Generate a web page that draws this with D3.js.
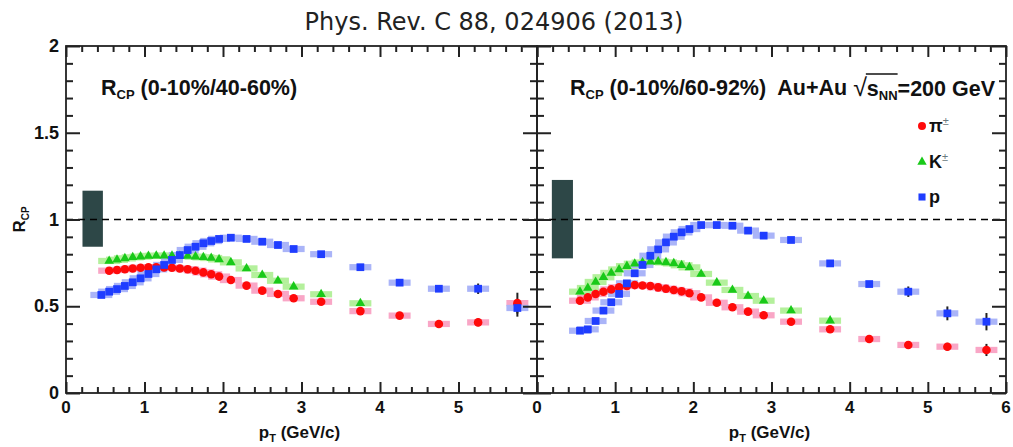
<!DOCTYPE html>
<html>
<head>
<meta charset="utf-8">
<script src="https://cdn.jsdelivr.net/npm/d3@7"></script>
<style>
  html, body { margin: 0; padding: 0; background: #fff; }
  svg { display: block; }
  .lab { font-family: "Liberation Sans", Arial, sans-serif; font-weight: bold; fill: #111; white-space: pre; }
</style>
</head>
<body>
<svg id="chart" width="1013" height="447"></svg>
<script>
// ---- data: R_CP of identified hadrons vs pT ----
const pionPt   = [0.55,0.65,0.75,0.85,0.95,1.05,1.15,1.25,1.35,1.45,1.55,1.65,1.75,1.85,1.95,2.1,2.3,2.5,2.7,2.9,3.25,3.75,4.25,4.75,5.25,5.75];
const kaonPt   = [0.55,0.65,0.75,0.85,0.95,1.05,1.15,1.25,1.35,1.45,1.55,1.65,1.75,1.85,1.95,2.1,2.3,2.5,2.7,2.9,3.25,3.75];
const protonPtA = [0.45,0.55,0.65,0.75,0.85,0.95,1.05,1.15,1.25,1.35,1.45,1.55,1.65,1.75,1.85,1.95,2.1,2.3,2.5,2.7,2.9,3.25,3.75,4.25,4.75,5.25,5.75];
const protonPtB = [0.55,0.65,0.75,0.85,0.95,1.05,1.15,1.25,1.35,1.45,1.55,1.65,1.75,1.85,1.95,2.1,2.3,2.5,2.7,2.9,3.25,3.75,4.25,4.75,5.25,5.75];

// 0-10% / 40-60%
const pion4060   = [0.705,0.709,0.713,0.718,0.722,0.724,0.724,0.724,0.722,0.718,0.713,0.705,0.695,0.684,0.671,0.651,0.619,0.590,0.571,0.546,0.526,0.472,0.446,0.398,0.407,0.518];
const pionErr4060 = [0,0,0,0,0,0,0,0,0,0,0,0,0,0,0,0,0,0,0,0,0,0,0.008,0.012,0.022,0.06];
const kaon4060   = [0.761,0.768,0.776,0.782,0.786,0.790,0.791,0.791,0.791,0.790,0.790,0.786,0.782,0.778,0.770,0.753,0.718,0.680,0.647,0.613,0.569,0.517];
const proton4060 = [0.565,0.584,0.599,0.617,0.638,0.661,0.686,0.713,0.738,0.767,0.795,0.824,0.843,0.863,0.876,0.888,0.895,0.888,0.872,0.853,0.830,0.800,0.725,0.636,0.601,0.601,0.490];
const protonErr4060 = [0,0,0,0,0,0,0,0,0,0,0,0,0,0,0,0,0,0,0,0,0,0,0,0.01,0.015,0.03,0.05];

// 0-10% / 60-92%
const pion6092   = [0.532,0.551,0.571,0.584,0.597,0.609,0.617,0.622,0.620,0.617,0.609,0.601,0.594,0.586,0.575,0.551,0.520,0.494,0.469,0.448,0.411,0.367,0.311,0.277,0.267,0.248];
const pionErr6092 = [0,0,0,0,0,0,0,0,0,0,0,0,0,0,0,0,0,0,0,0,0,0,0.008,0.015,0.022,0.035];
const kaon6092   = [0.584,0.605,0.640,0.667,0.692,0.712,0.731,0.745,0.752,0.757,0.757,0.753,0.747,0.736,0.724,0.686,0.636,0.594,0.559,0.532,0.475,0.417];
const proton6092 = [0.359,0.367,0.415,0.475,0.523,0.571,0.632,0.690,0.738,0.791,0.828,0.868,0.901,0.926,0.945,0.968,0.968,0.964,0.936,0.907,0.882,0.747,0.628,0.584,0.459,0.411];
const protonErr6092 = [0,0,0,0,0,0,0,0,0,0,0,0,0,0,0,0,0,0,0,0,0,0.008,0.015,0.03,0.04,0.05];

// normalisation uncertainty boxes [pT from, pT to, R low, R high]
const normBox4060 = [0.21, 0.47, 0.843, 1.166];
const normBox6092 = [0.19, 0.46, 0.776, 1.228];

const xMajor = [0,1,2,3,4,5,6];
const xMinor = [0.2,0.4,0.6,0.8,1.2,1.4,1.6,1.8,2.2,2.4,2.6,2.8,3.2,3.4,3.6,3.8,4.2,4.4,4.6,4.8,5.2,5.4,5.6,5.8];
const yMajor = [0,0.5,1,1.5,2];
const yMinor = [0.1,0.2,0.3,0.4,0.6,0.7,0.8,0.9,1.1,1.2,1.3,1.4,1.6,1.7,1.8,1.9];
const yTickText = ["0","0.5","1","1.5","2"];

// ---- layout ----
const svg = d3.select("#chart");
const plotTop = 46, plotBottom = 393;
const panels = [
  { x0: 66,  x1: 537, pion: pion4060, pionErr: pionErr4060, kaon: kaon4060,
    proton: proton4060, protonErr: protonErr4060, protonPt: protonPtA, box: normBox4060, xlabels: [0,1,2,3,4,5] },
  { x0: 537, x1: 1006, pion: pion6092, pionErr: pionErr6092, kaon: kaon6092,
    proton: proton6092, protonErr: protonErr6092, protonPt: protonPtB, box: normBox6092, xlabels: [0,1,2,3,4,5,6] }
];
const y = d3.scaleLinear().domain([0, 2]).range([plotBottom, plotTop]);

const colors = {
  pion:   { mark: "#ff0a0a", band: "#f9a6c6" },
  kaon:   { mark: "#19c919", band: "#b4f09c" },
  proton: { mark: "#1f3dff", band: "#aab4f8" }
};
const sysR = 0.018;      // systematic band half-height
const bandHalfPt = 0.14; // systematic band half-width
const axisColor = "#222";

svg.append("text")
  .attr("x", 494).attr("y", 30)
  .attr("text-anchor", "middle")
  .style("font-family", "'DejaVu Sans', sans-serif")
  .style("font-size", "24px")
  .style("fill", "#222")
  .text("Phys. Rev. C 88, 024906 (2013)");

// inward-pointing ticks drawn with d3 axes
function tickAxis(g, axisGen, scale, values, size, tx, ty) {
  const a = g.append("g")
    .attr("class", "ticks")
    .attr("transform", `translate(${tx},${ty})`)
    .call(axisGen(scale).tickValues(values).tickSize(-size).tickPadding(0).tickFormat(""));
  a.select(".domain").remove();
  a.selectAll(".tick line")
    .style("stroke", axisColor)
    .style("stroke-width", "2px");
}

panels.forEach(p => {
  const x = d3.scaleLinear().domain([0, 6]).range([p.x0, p.x1]);
  const g = svg.append("g");

  // normalisation box
  g.append("rect")
    .attr("x", x(p.box[0])).attr("width", x(p.box[1]) - x(p.box[0]))
    .attr("y", y(p.box[3])).attr("height", y(p.box[2]) - y(p.box[3]))
    .attr("fill", "#2d4747");

  // dashed unity line
  g.append("line")
    .attr("x1", x(0)).attr("x2", x(6))
    .attr("y1", y(1)).attr("y2", y(1))
    .attr("stroke", "#000").attr("stroke-width", 1.6)
    .attr("stroke-dasharray", "7,5");

  const series = [
    { key: "pion",   pt: pionPt,     r: p.pion,   err: p.pionErr },
    { key: "kaon",   pt: kaonPt,     r: p.kaon,   err: null },
    { key: "proton", pt: p.protonPt, r: p.proton, err: p.protonErr }
  ];

  // systematic bands
  series.forEach(s => {
    g.append("g").selectAll("rect")
      .data(s.pt.map((v, i) => ({ pt: v, r: s.r[i] })))
      .join("rect")
      .attr("x", d => x(d.pt - bandHalfPt))
      .attr("width", d => x(d.pt + bandHalfPt) - x(d.pt - bandHalfPt))
      .attr("y", d => y(d.r + sysR))
      .attr("height", d => y(d.r - sysR) - y(d.r + sysR))
      .attr("fill", colors[s.key].band);
  });

  // statistical error bars
  series.forEach(s => {
    if (!s.err) return;
    g.append("g").selectAll("line")
      .data(s.pt.map((v, i) => ({ pt: v, r: s.r[i], e: s.err[i] })).filter(d => d.e > 0))
      .join("line")
      .attr("x1", d => x(d.pt)).attr("x2", d => x(d.pt))
      .attr("y1", d => y(d.r + d.e)).attr("y2", d => y(d.r - d.e))
      .attr("stroke", "#222").attr("stroke-width", 2);
  });

  // markers
  const shapes = {
    pion: d3.symbol().type(d3.symbolCircle).size(58),
    kaon: d3.symbol().type(d3.symbolTriangle).size(40),
    proton: d3.symbol().type(d3.symbolSquare).size(60)
  };
  series.forEach(s => {
    g.append("g").selectAll("path")
      .data(s.pt.map((v, i) => ({ pt: v, r: s.r[i] })))
      .join("path")
      .attr("transform", d => `translate(${x(d.pt)},${y(d.r)})`)
      .attr("d", shapes[s.key]())
      .attr("fill", colors[s.key].mark);
  });

  // ticks on all four sides
  tickAxis(g, d3.axisBottom, x, xMajor, 11, 0, plotBottom);
  tickAxis(g, d3.axisBottom, x, xMinor, 6, 0, plotBottom);
  tickAxis(g, d3.axisTop, x, xMajor, 11, 0, plotTop);
  tickAxis(g, d3.axisTop, x, xMinor, 6, 0, plotTop);
  tickAxis(g, d3.axisLeft, y, yMajor, 14, p.x0, 0);
  tickAxis(g, d3.axisLeft, y, yMinor, 7, p.x0, 0);
  tickAxis(g, d3.axisRight, y, yMajor, 14, p.x1, 0);
  tickAxis(g, d3.axisRight, y, yMinor, 7, p.x1, 0);

  // frame
  g.append("rect")
    .attr("x", p.x0).attr("y", plotTop)
    .attr("width", p.x1 - p.x0).attr("height", plotBottom - plotTop)
    .attr("fill", "none").attr("stroke", axisColor).attr("stroke-width", 1.8);

  // x tick labels
  g.append("g").selectAll("text")
    .data(p.xlabels)
    .join("text")
    .attr("class", "lab")
    .attr("x", d => x(d)).attr("y", 413)
    .attr("text-anchor", "middle")
    .style("font-size", "17px")
    .text(d => d);

  // x axis title
  const xt = g.append("text").attr("class", "lab")
    .attr("x", (p.x0 + p.x1) / 2 - 2).attr("y", 438)
    .attr("text-anchor", "middle").style("font-size", "17px");
  xt.append("tspan").text("p");
  xt.append("tspan").attr("dy", 4).style("font-size", "11px").text("T");
  xt.append("tspan").attr("dy", -4).text(" (GeV/c)");
});

// y tick labels
svg.append("g").selectAll("text")
  .data(yMajor)
  .join("text")
  .attr("class", "lab")
  .attr("x", 59).attr("y", d => y(d) + 6)
  .attr("text-anchor", "end")
  .style("font-size", "18px")
  .text((d, i) => yTickText[i]);

// y axis title
const yt = svg.append("text").attr("class", "lab")
  .attr("transform", `translate(25,${y(1) + 13}) rotate(-90)`)
  .style("font-size", "17px");
yt.append("tspan").text("R");
yt.append("tspan").attr("dy", 4).style("font-size", "10px").text("CP");

// panel captions
function rcp(xp, yp, rest) {
  const t = svg.append("text").attr("class", "lab")
    .attr("x", xp).attr("y", yp).style("font-size", "21.5px");
  t.append("tspan").text("R");
  t.append("tspan").attr("dy", 4).style("font-size", "13px").text("CP");
  t.append("tspan").attr("dy", -4).text(" " + rest);
  return t;
}
rcp(101, 95, "(0-10%/40-60%)");
const cap = rcp(570, 95, "(0-10%/60-92%)  Au+Au ");
// sqrt(s_NN) part
const capEnd = cap.node().getComputedTextLength();
const rootText = svg.append("text").attr("class", "lab")
  .attr("x", 570 + capEnd).attr("y", 96).style("font-size", "21.5px");
rootText.append("tspan").style("font-weight", "normal").style("font-size", "25px").text("\u221A");
rootText.append("tspan").text("s");
rootText.append("tspan").attr("dy", 4).style("font-size", "13px").text("NN");
rootText.append("tspan").attr("dy", -4).text("=200 GeV");
{
  const n = rootText.node();
  const s0 = n.getExtentOfChar(1);
  const s2 = n.getExtentOfChar(3);
  svg.append("line")
    .attr("x1", s0.x - 1).attr("x2", s2.x + s2.width)
    .attr("y1", 74).attr("y2", 74)
    .attr("stroke", "#111").attr("stroke-width", 1.6);
}

// legend
const legend = [
  { key: "pion", sym: d3.symbolCircle, size: 50, y: 126, name: "\u03C0", sup: "\u00B1" },
  { key: "kaon", sym: d3.symbolTriangle, size: 38, y: 162, name: "K", sup: "\u00B1" },
  { key: "proton", sym: d3.symbolSquare, size: 50, y: 197, name: "p", sup: "" }
];
legend.forEach(l => {
  svg.append("path")
    .attr("transform", `translate(922,${l.y})`)
    .attr("d", d3.symbol().type(l.sym).size(l.size)())
    .attr("fill", colors[l.key].mark);
  const t = svg.append("text").attr("class", "lab")
    .attr("x", 929).attr("y", l.y + 6).style("font-size", "18px");
  t.append("tspan").text(l.name);
  if (l.sup) t.append("tspan").attr("dy", -7).style("font-size", "11px")
    .style("font-weight", "normal").style("fill", "#6a7a80").text(l.sup);
});
</script>
</body>
</html>
